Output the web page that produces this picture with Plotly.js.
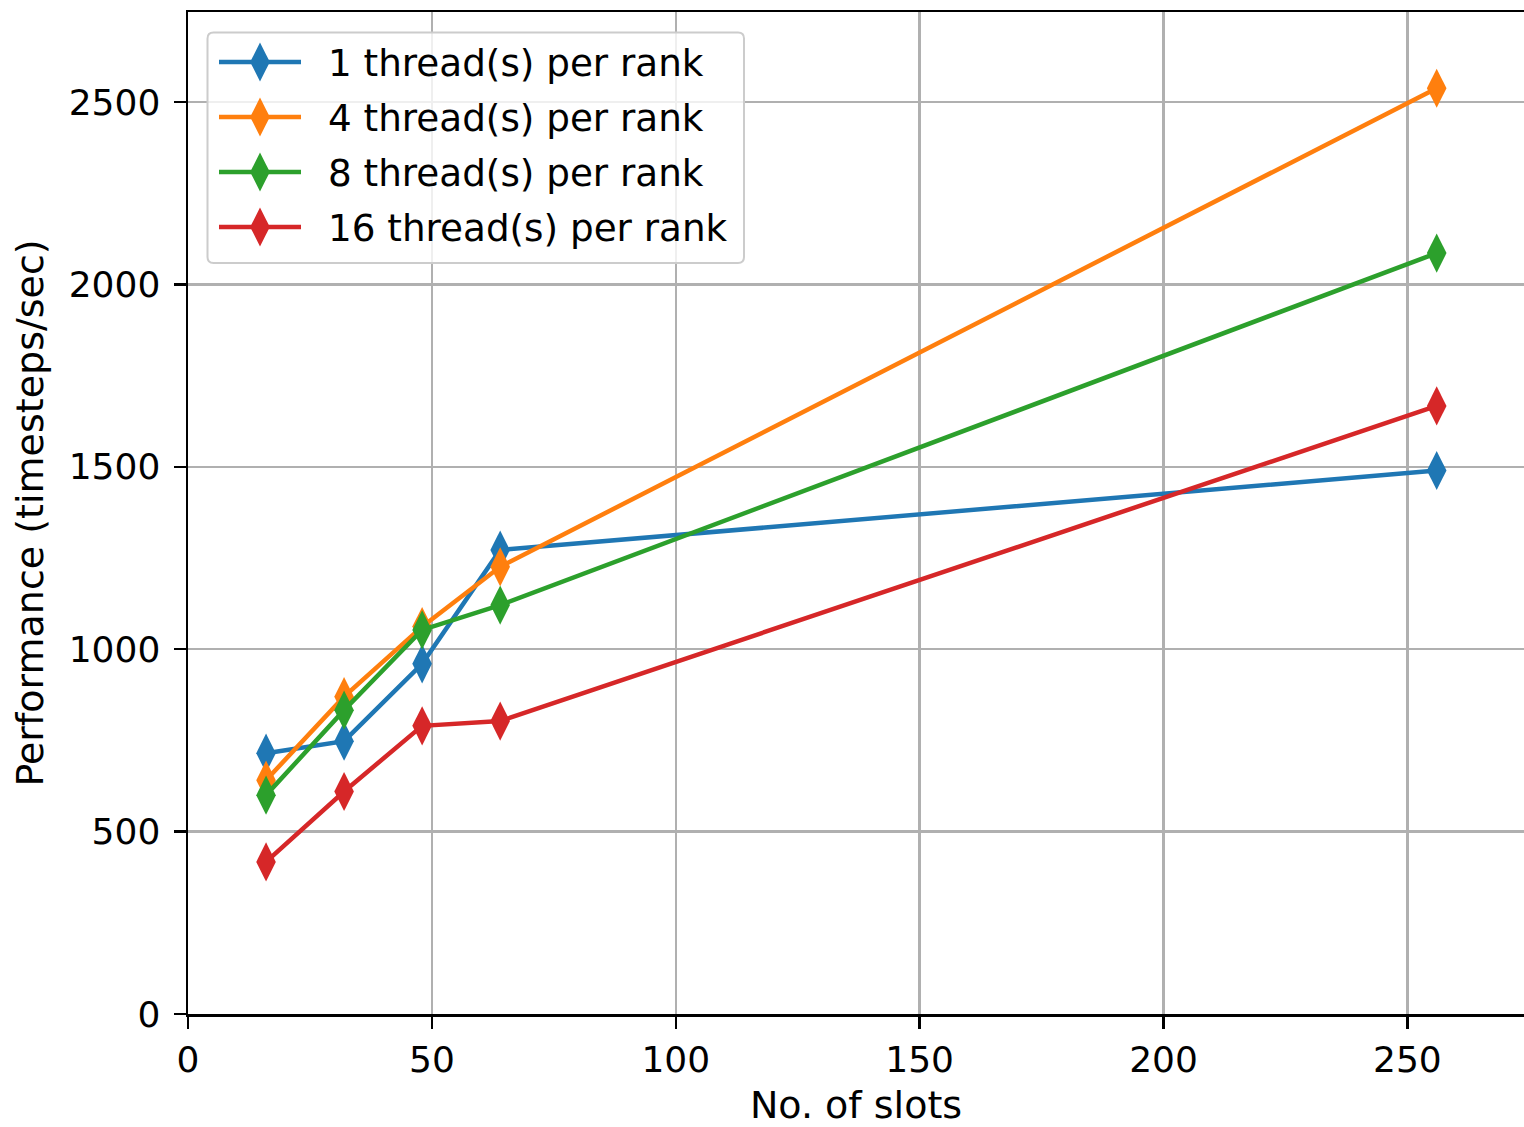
<!DOCTYPE html>
<html>
<head>
<meta charset="utf-8">
<script src="https://cdn.plot.ly/plotly-3.0.1.min.js"></script>
<style>html,body{margin:0;padding:0;background:#fff;overflow:hidden}</style>
</head>
<body>
<div id="chart" style="width:1524px;height:1127px"></div>
<script>
const slots = [16, 32, 48, 64, 256];
const seriesNames = ["1 thread(s) per rank", "4 thread(s) per rank", "8 thread(s) per rank", "16 thread(s) per rank"];
const perf1 = [715, 748, 960, 1272, 1490];
const perf4 = [641, 870, 1062, 1226, 2538];
const perf8 = [600, 833, 1053, 1121, 2086];
const perf16 = [417, 610, 790, 803, 1667];
const colors = ["#1f77b4", "#ff7f0e", "#2ca02c", "#d62728"];
const allPerf = [perf1, perf4, perf8, perf16];

const font = "DejaVu Sans, sans-serif";
const LW = 4.5, MS = 28;
const traces = allPerf.map((vals, i) => ({
  x: slots, y: vals, name: seriesNames[i], type: "scatter", mode: "lines+markers",
  showlegend: false,
  line: {color: colors[i], width: LW},
  marker: {symbol: "diamond-tall", size: MS, color: colors[i], line: {width: 0}}
}));

// Custom legend (matplotlib style) drawn in pixel offsets from the plot's top-left corner
const plotL = 188, plotT = 12, plotW = 1336, plotH = 1002;
const shapes = [];
const annotations = [];
const dh = MS * 0.7, dw = MS * 0.35;
shapes.push({
  type: "path", xref: "paper", yref: "paper", xsizemode: "pixel", ysizemode: "pixel",
  xanchor: 0, yanchor: 1, layer: "above",
  path: "M25.5,-20.5 L550,-20.5 Q556,-20.5 556,-26.5 L556,-245 Q556,-251 550,-251 L25.5,-251 Q19.5,-251 19.5,-245 L19.5,-26.5 Q19.5,-20.5 25.5,-20.5 Z",
  fillcolor: "rgba(255,255,255,0.8)", line: {color: "#cccccc", width: 2}
});
seriesNames.forEach((name, i) => {
  const yoff = -(50 + 55 * i);
  shapes.push({
    type: "path", xref: "paper", yref: "paper", xsizemode: "pixel", ysizemode: "pixel",
    xanchor: 0, yanchor: 1, layer: "above",
    path: `M31,${yoff} L113,${yoff}`,
    line: {color: colors[i], width: LW}
  });
  shapes.push({
    type: "path", xref: "paper", yref: "paper", xsizemode: "pixel", ysizemode: "pixel",
    xanchor: 0, yanchor: 1, layer: "above",
    path: `M72,${yoff + dh} L${72 + dw},${yoff} L72,${yoff - dh} L${72 - dw},${yoff} Z`,
    fillcolor: colors[i], line: {width: 0}
  });
  annotations.push({
    xref: "paper", yref: "paper", x: (326 - plotL) / plotW, y: 1 + (yoff - 1) / plotH,
    xanchor: "left", yanchor: "middle", showarrow: false, text: name,
    font: {family: font, size: 37.3, color: "#000"}
  });
});

const layout = {
  width: 1524, height: 1127,
  margin: {l: 188, r: 0, t: 12, b: 113},
  paper_bgcolor: "#fff", plot_bgcolor: "#fff",
  font: {family: font, size: 36, color: "#000"},
  showlegend: false,
  shapes: shapes,
  annotations: annotations,
  xaxis: {
    range: [0, 273.9], tickvals: [0, 50, 100, 150, 200, 250],
    showgrid: true, gridcolor: "#b0b0b0", gridwidth: 2.5, zeroline: false,
    showline: true, linecolor: "#000", linewidth: 2.5, mirror: true,
    ticks: "outside", ticklen: 12, tickwidth: 2.5, tickcolor: "#000",
    tickfont: {family: font, size: 36, color: "#000"},
    title: {text: "No. of slots", font: {family: font, size: 38, color: "#000"}, standoff: 14}
  },
  yaxis: {
    range: [0, 2747], tickvals: [0, 500, 1000, 1500, 2000, 2500],
    showgrid: true, gridcolor: "#b0b0b0", gridwidth: 2.5, zeroline: false,
    showline: true, linecolor: "#000", linewidth: 2.5, mirror: false,
    ticks: "outside", ticklen: 12, tickwidth: 2.5, tickcolor: "#000",
    tickfont: {family: font, size: 36, color: "#000"},
    ticklabelstandoff: 6,
    title: {text: "Performance (timesteps/sec)", font: {family: font, size: 38, color: "#000"}, standoff: 14}
  }
};
Plotly.newPlot("chart", traces, layout, {displayModeBar: false, staticPlot: true});
</script>
</body>
</html>
